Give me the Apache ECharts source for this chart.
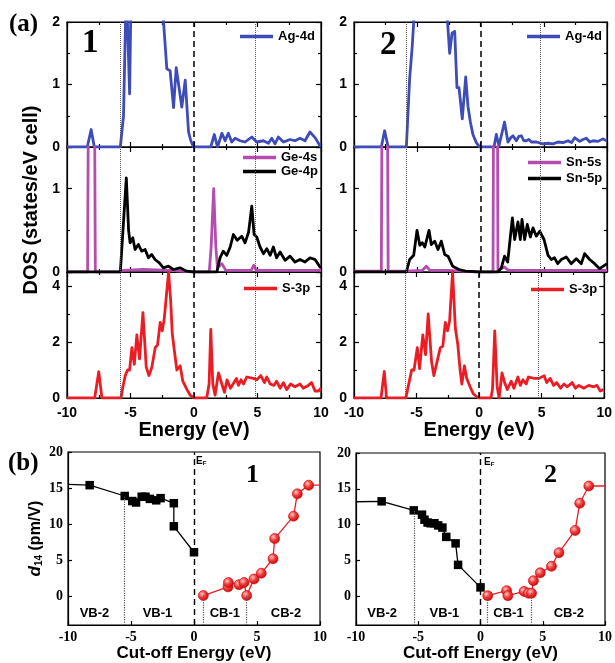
<!DOCTYPE html>
<html>
<head>
<meta charset="utf-8">
<script src="https://cdn.jsdelivr.net/npm/echarts@6/dist/echarts.min.js"></script>
<style>
  html, body { margin: 0; padding: 0; background: #fff; }
  #chart { width: 615px; height: 663px; }
</style>
</head>
<body>
<div id="chart"></div>
<script>
// ---------------- Projected DOS, compound 1 (Ag / Ge / S) ----------------
const ag4d_1 = [[-10,0],[-8.4,0],[-8.1,0.28],[-7.85,0],[-5.8,0],[-5.55,0.5],[-5.33,2.6],[-5.07,0.85],[-4.9,3.2],[-4.6,4.5],[-4.2,5.5],[-3.8,6],[-3.3,5.2],[-2.9,4.2],[-2.5,2.3],[-2.14,1.25],[-1.88,1.22],[-1.61,0.63],[-1.4,1.27],[-0.96,0.64],[-0.69,1.07],[-0.43,0.24],[-0.25,0.1],[-0.04,0],[1.32,0],[1.6,0.2],[1.85,0],[2.2,0.22],[2.45,0.1],[2.7,0.22],[2.97,0.08],[3.24,0.14],[3.63,0.1],[4.02,0.08],[4.55,0.16],[4.94,0.08],[5.47,0.1],[5.86,0.06],[6.12,0.14],[6.38,0.05],[6.64,0.16],[7.04,0.08],[7.56,0.12],[7.95,0.1],[8.35,0.14],[8.74,0.1],[9.13,0.24],[9.53,0.15],[9.92,0.02],[10,0.02]];
const ge4s_1 = [[-10,0],[-8.38,0],[-8.07,10],[-7.77,0],[-5.8,0],[-5.6,0.02],[-4,0.03],[-2,0.02],[-1,0.01],[0,0],[1.2,0],[1.35,0.3],[1.55,1.0],[1.72,0.3],[1.85,0.05],[2.2,0.1],[2.5,0.02],[4.5,0.02],[4.7,0.08],[4.9,0.02],[10,0.02]];
const ge4p_1 = [[-10,0],[-5.8,0],[-5.33,1.13],[-5.15,0.5],[-5.03,0.35],[-4.82,0.41],[-4.64,0.27],[-4.38,0.33],[-4.12,0.25],[-3.85,0.27],[-3.59,0.17],[-3.33,0.21],[-3.07,0.15],[-2.73,0.11],[-2.41,0.05],[-2.02,0.07],[-1.63,0.03],[-1.1,0.05],[-0.58,0.01],[-0.05,0],[1.8,0],[2.05,0.17],[2.3,0.25],[2.58,0.2],[2.85,0.3],[3.1,0.45],[3.4,0.38],[3.76,0.43],[4.02,0.35],[4.3,0.48],[4.55,0.79],[4.73,0.45],[4.94,0.42],[5.2,0.3],[5.47,0.22],[5.73,0.28],[6.0,0.2],[6.25,0.3],[6.5,0.17],[6.78,0.24],[7.17,0.14],[7.56,0.19],[7.95,0.12],[8.35,0.15],[8.74,0.12],[9.13,0.17],[9.53,0.15],[9.92,0.06],[10,0.06]];
const s3p_1 = [[-10,0],[-7.82,0],[-7.5,0.94],[-7.25,0],[-5.75,0],[-5.6,0.4],[-5.41,0.8],[-5.23,1.0],[-5.07,1.0],[-4.89,1.8],[-4.7,1.2],[-4.5,2.25],[-4.29,1.4],[-4.02,3.05],[-3.76,1.1],[-3.55,0.8],[-3.32,1.1],[-3.05,1.8],[-2.87,1.9],[-2.66,2.7],[-2.5,2.4],[-2.35,2.8],[-2.0,4.5],[-1.84,3.5],[-1.71,2.3],[-1.55,1.7],[-1.35,1.0],[-1.09,1.15],[-0.88,0.6],[-0.55,0.3],[-0.3,0.1],[0,0],[1.0,0],[1.19,0.5],[1.32,2.45],[1.48,0.5],[1.66,0.1],[1.93,0.9],[2.19,0.5],[2.4,0.2],[2.6,0.65],[2.87,0.35],[3.34,0.7],[3.5,0.45],[3.7,0.65],[3.9,0.5],[4.15,0.75],[4.68,0.7],[4.94,0.65],[5.26,0.8],[5.55,0.55],[5.73,0.75],[6.0,0.5],[6.3,0.45],[6.5,0.6],[6.78,0.35],[7.04,0.55],[7.3,0.3],[7.6,0.5],[7.95,0.4],[8.35,0.5],[8.6,0.35],[9.0,0.45],[9.26,0.55],[9.53,0.25],[9.8,0.25],[10,0.35]];
const bandEdges_1 = [-5.8, 4.8];

// ---------------- Projected DOS, compound 2 (Ag / Sn / S) ----------------
const ag4d_2 = [[-10,0],[-7.84,0],[-7.58,0.26],[-7.3,0],[-5.86,0],[-5.6,1.1],[-5.4,1.6],[-5.1,2.6],[-4.5,4.5],[-3.8,5.5],[-3.2,4.6],[-2.7,2.3],[-2.44,1.5],[-2.25,1.82],[-2.04,1.85],[-1.86,0.95],[-1.7,0.95],[-1.44,0.45],[-1.17,1.12],[-0.99,0.65],[-0.8,0.4],[-0.6,0.2],[-0.33,0.07],[-0.07,0],[1.07,0],[1.25,0.2],[1.46,0.02],[1.9,0.4],[2.17,0.08],[2.4,0.15],[2.57,0.18],[2.83,0.1],[3.03,0.17],[3.23,0.18],[3.42,0.1],[3.62,0.1],[3.82,0.12],[4.02,0.08],[4.41,0.08],[4.94,0.05],[5.34,0.06],[5.73,0.05],[6.13,0.08],[6.52,0.07],[6.92,0.1],[7.2,0.07],[7.44,0.15],[7.84,0.09],[8.1,0.12],[8.37,0.14],[8.64,0.08],[8.9,0.1],[9.29,0.09],[9.68,0.13],[9.95,0.1],[10,0.1]];
const sn5s_2 = [[-10,0.01],[-7.84,0.01],[-7.57,10],[-7.3,0.01],[-5.9,0.01],[-4.6,0.02],[-4.28,0.07],[-4.0,0.02],[-2.5,0.02],[-1.5,0.01],[0,0],[0.99,0],[1.19,10],[1.38,0.02],[1.9,0.06],[2.2,0.02],[4,0.02],[10,0.02]];
const sn5p_2 = [[-10,0],[-5.86,0],[-5.6,0.15],[-5.28,0.2],[-5.02,0.5],[-4.8,0.32],[-4.6,0.35],[-4.4,0.3],[-4.07,0.5],[-3.89,0.33],[-3.62,0.37],[-3.36,0.27],[-3.1,0.37],[-2.83,0.21],[-2.57,0.19],[-2.2,0.07],[-1.7,0.03],[-1.2,0.01],[-0.1,0],[1.38,0],[1.65,0.05],[1.9,0.19],[2.15,0.12],[2.52,0.65],[2.7,0.39],[2.96,0.6],[3.15,0.39],[3.28,0.63],[3.49,0.39],[3.7,0.57],[3.94,0.42],[4.15,0.53],[4.41,0.43],[4.68,0.49],[5.02,0.39],[5.34,0.2],[5.6,0.15],[5.85,0.17],[6.1,0.1],[6.39,0.15],[6.78,0.18],[7.17,0.1],[7.57,0.16],[7.97,0.1],[8.23,0.22],[8.63,0.15],[9.02,0.1],[9.42,0.04],[9.8,0.08],[10,0.1]];
const s3p_2 = [[-10,0],[-7.84,0],[-7.58,0.95],[-7.4,0],[-5.86,0],[-5.6,0.55],[-5.39,1.0],[-5.2,1.0],[-4.94,1.8],[-4.76,1.05],[-4.5,2.25],[-4.28,1.55],[-4.07,3.0],[-3.8,1.3],[-3.62,0.8],[-3.36,1.3],[-3.1,1.8],[-2.9,1.85],[-2.7,2.7],[-2.52,2.4],[-2.36,2.75],[-2.12,4.5],[-1.9,2.5],[-1.7,1.9],[-1.52,1.0],[-1.38,0.5],[-1.17,1.15],[-0.99,0.7],[-0.72,0.4],[-0.46,0.15],[-0.07,0],[0.94,0],[1.07,0.3],[1.25,2.4],[1.44,0.4],[1.6,0],[1.83,0.9],[2.04,0.55],[2.25,0.3],[2.57,0.6],[2.78,0.35],[3.1,0.75],[3.3,0.45],[3.5,0.65],[3.76,0.5],[3.94,0.75],[4.41,0.7],[4.8,0.7],[5.2,0.8],[5.4,0.55],[5.68,0.7],[5.95,0.45],[6.2,0.55],[6.52,0.35],[6.78,0.5],[7.05,0.4],[7.44,0.55],[7.7,0.35],[7.97,0.45],[8.37,0.35],[8.76,0.45],[9.16,0.4],[9.42,0.45],[9.68,0.25],[9.95,0.3],[10,0.3]];
const bandEdges_2 = [-5.9, 4.75];

// ---------------- d14 versus cut-off energy ----------------
const d14_vb_1 = [[-10,15.5],[-8.28,15.4],[-5.5,13.9],[-4.9,13.2],[-4.6,13.0],[-4.15,13.8],[-3.85,13.8],[-3.5,13.5],[-3.0,13.3],[-2.65,13.6],[-1.6,12.9],[-1.6,9.7],[0,6.1]];
const d14_cb_1 = [[0.74,0.1],[2.7,1.3],[2.73,1.9],[3.57,1.6],[3.97,1.9],[4.18,0.1],[4.76,2.4],[5.34,3.2],[6.27,5.2],[6.4,8.0],[7.9,11.1],[8.2,14.2],[9.1,15.4],[10,15.4]];
const d14_vb_2 = [[-10,13.2],[-7.94,13.26],[-5.36,12.0],[-4.7,11.4],[-4.5,10.7],[-4.25,10.3],[-4.0,10.2],[-3.7,10.2],[-3.4,9.9],[-3.06,9.6],[-2.75,8.3],[-2.0,7.4],[-1.8,4.4],[0,1.26]];
const d14_cb_2 = [[0.58,0.1],[2.1,0.8],[2.2,0.1],[3.5,0.7],[3.85,0.45],[4.1,0.45],[4.25,2.2],[4.8,3.3],[5.7,4.2],[6.3,6.1],[7.6,9.2],[7.97,13.0],[8.7,15.4],[10,15.4]];
const d14Ticks = [0, 5, 10, 15, 20];
const energyTicks = [-10, -5, 0, 5, 10];
const regionNames = ['VB-2', 'VB-1', 'CB-1', 'CB-2'];
const regionX_1 = [-7.9, -2.9, 2.45, 7.3];
const regionX_2 = [-7.9, -2.9, 2.25, 7.1];
const regionY = -2.4;

// ---------------- styling helpers ----------------
const SANS = 'Liberation Sans';
const SERIF = 'Liberation Serif';
const C_AG = '#3d4cb8', C_S = '#b54cb0', C_P = '#000000', C_SP = '#ec1c24';
const frame = { color: '#000', width: 1.2 };

const grids = [], xAxes = [], yAxes = [], series = [];

function addDosPanel(box, yMax, yStep, isBottom) {
  const g = grids.length;
  grids.push({ left: box.left, top: box.top, width: box.width, height: box.height,
    show: true, borderColor: '#000', borderWidth: 1.2, containLabel: false });
  const tick = { show: true, inside: true, length: 5, lineStyle: frame };
  const minor = { show: true, splitNumber: 2, length: 3, lineStyle: frame };
  const xi = xAxes.length;
  xAxes.push({
    gridIndex: g, type: 'value', min: energyTicks[0], max: energyTicks[energyTicks.length - 1], interval: 5,
    position: 'bottom', axisLine: { show: true, onZero: false, lineStyle: frame },
    axisTick: tick, minorTick: minor, splitLine: { show: false },
    axisLabel: { show: isBottom, margin: 8, color: '#000', fontFamily: SANS, fontWeight: 'bold', fontSize: 14 },
    name: isBottom ? 'Energy (eV)' : '', nameLocation: 'middle', nameGap: 19,
    nameTextStyle: { fontFamily: SANS, fontWeight: 'bold', fontSize: 20, color: '#000' }
  });
  xAxes.push({
    gridIndex: g, type: 'value', min: -10, max: 10, interval: 5, position: 'top',
    axisLine: { show: true, onZero: false, lineStyle: frame }, axisTick: tick, minorTick: minor,
    splitLine: { show: false }, axisLabel: { show: false }
  });
  const yi = yAxes.length;
  const fmt = v => (Math.abs(v / yStep - Math.round(v / yStep)) < 1e-6 ? String(v) : '');
  yAxes.push({
    gridIndex: g, type: 'value', min: 0, max: yMax, interval: yStep, position: 'left',
    axisLine: { show: true, onZero: false, lineStyle: frame }, axisTick: tick, minorTick: minor,
    splitLine: { show: false },
    axisLabel: { formatter: fmt, margin: 7, color: '#000', fontFamily: SANS, fontWeight: 'bold', fontSize: 14 }
  });
  yAxes.push({
    gridIndex: g, type: 'value', min: 0, max: yMax, interval: yStep, position: 'right',
    axisLine: { show: true, onZero: false, lineStyle: frame }, axisTick: tick, minorTick: minor,
    splitLine: { show: false }, axisLabel: { show: false }
  });
  return { xi, yi };
}

function dosLine(name, data, color, ax) {
  return {
    type: 'line', name, data, xAxisIndex: ax.xi, yAxisIndex: ax.yi,
    symbol: 'none', showSymbol: false, clip: true, z: 3,
    lineStyle: { color, width: 2.8, join: 'round' }, itemStyle: { color },
    emphasis: { disabled: true }
  };
}

function edgeMarks(edges) {
  return {
    silent: true, symbol: ['none', 'none'], label: { show: false }, animation: false,
    data: [
      { xAxis: edges[0], lineStyle: { type: 'dotted', color: '#555', width: 1 } },
      { xAxis: 0, lineStyle: { type: [6, 4], color: '#000', width: 1.5 } },
      { xAxis: edges[1], lineStyle: { type: 'dotted', color: '#555', width: 1 } }
    ]
  };
}

// ---- DOS columns ----
const colL = { left: 67, width: 254 }, colR = { left: 354, width: 253 };
const rowsTop = [22, 147, 272], rowH = [125, 125, 126];

function addDosColumn(col, ag, sN, s, pN, p, s3p, edges) {
  const a1 = addDosPanel({ left: col.left, width: col.width, top: rowsTop[0], height: rowH[0] }, 2, 1, false);
  const a2 = addDosPanel({ left: col.left, width: col.width, top: rowsTop[1], height: rowH[1] }, 1.5, 1, false);
  const a3 = addDosPanel({ left: col.left, width: col.width, top: rowsTop[2], height: rowH[2] }, 4.5, 2, true);
  const sAg = dosLine('Ag-4d', ag, C_AG, a1); sAg.markLine = edgeMarks(edges);
  const sS = dosLine(sN, s, C_S, a2); sS.markLine = edgeMarks(edges);
  const sP = dosLine(pN, p, C_P, a2);
  const sSp = dosLine('S-3p', s3p, C_SP, a3); sSp.markLine = edgeMarks(edges);
  series.push(sAg, sS, sP, sSp);
}
addDosColumn(colL, ag4d_1, 'Ge-4s', ge4s_1, 'Ge-4p', ge4p_1, s3p_1, bandEdges_1);
addDosColumn(colR, ag4d_2, 'Sn-5s', sn5s_2, 'Sn-5p', sn5p_2, s3p_2, bandEdges_2);

// ---- d14 panels ----
const d14Min = -4, d14Max = 20;
function addD14Panel(box, vb, cb, dropPts, regionX, withName) {
  const g = grids.length;
  grids.push({ left: box.left, top: box.top, width: box.width, height: box.height,
    show: true, borderColor: '#000', borderWidth: 1.2 });
  const xi = xAxes.length, yi = yAxes.length;
  xAxes.push({
    gridIndex: g, type: 'value', min: -10, max: 10, interval: 5,
    axisLine: { show: true, onZero: false, lineStyle: frame },
    axisTick: { inside: true, length: 4, lineStyle: frame }, splitLine: { show: false },
    axisLabel: { margin: 5, color: '#000', fontFamily: SERIF, fontWeight: 'bold', fontSize: 14 },
    name: 'Cut-off Energy (eV)', nameLocation: 'middle', nameGap: 18,
    nameTextStyle: { fontFamily: SANS, fontWeight: 'bold', fontSize: 17, color: '#000' }
  });
  yAxes.push({
    gridIndex: g, type: 'value', min: d14Min, max: d14Max,
    axisLine: { show: true, onZero: false, lineStyle: frame },
    axisTick: { inside: true, length: 4, lineStyle: frame, customValues: d14Ticks },
    splitLine: { show: false },
    axisLabel: { customValues: d14Ticks, margin: 5, color: '#000', fontFamily: SERIF, fontWeight: 'bold', fontSize: 14 },
    name: withName ? '{d|d}{s|14}{u| (pm/V)}' : '', nameLocation: 'middle', nameGap: 24,
    nameTextStyle: { color: '#000', rich: {
      d: { fontFamily: SANS, fontStyle: 'italic', fontWeight: 'bold', fontSize: 17, color: '#000' },
      s: { fontFamily: SANS, fontWeight: 'bold', fontSize: 10, color: '#000', verticalAlign: 'bottom', padding: [7, 0, 0, 0] },
      u: { fontFamily: SANS, fontWeight: 'bold', fontSize: 16, color: '#000' } } }
  });
  const blackData = vb.map((p, i) => (i === 0 ? { value: p, symbol: 'none' } : p));
  const redData = cb.map((p, i) => (i === cb.length - 1 ? { value: p, symbol: 'none' } : p));
  const drops = dropPts.map(p => [
    { coord: [p[0], d14Min], lineStyle: { type: 'dotted', color: '#555', width: 1.2 } },
    { coord: [p[0], p[1]] }
  ]);
  series.push({
    type: 'line', name: 'VB', data: blackData, xAxisIndex: xi, yAxisIndex: yi,
    symbol: 'rect', symbolSize: 8.5, showSymbol: true, showAllSymbol: true, z: 4,
    lineStyle: { color: '#000', width: 1.3 }, itemStyle: { color: '#000' },
    emphasis: { disabled: true },
    markLine: {
      silent: true, symbol: ['none', 'none'], label: { show: false }, animation: false,
      data: [{ xAxis: 0, lineStyle: { type: [6, 4], color: '#000', width: 1.4 } }].concat(drops)
    },
    markPoint: {
      silent: true, symbol: 'circle', symbolSize: 0, animation: false,
      label: { show: true, position: 'inside', formatter: '{b}', color: '#000',
        fontFamily: SANS, fontWeight: 'bold', fontSize: 13 },
      data: regionNames.map((n, i) => ({ name: n, coord: [regionX[i], regionY] }))
    }
  });
  series.push({
    type: 'line', name: 'CB', data: redData, xAxisIndex: xi, yAxisIndex: yi,
    symbol: 'circle', symbolSize: 10, showSymbol: true, showAllSymbol: true, z: 4,
    lineStyle: { color: C_SP, width: 1.3 },
    itemStyle: { color: { type: 'radial', x: 0.38, y: 0.35, r: 0.7,
      colorStops: [{ offset: 0, color: '#ffc6c6' }, { offset: 0.45, color: '#f04040' }, { offset: 1, color: '#c40000' }] },
      borderColor: '#d00000', borderWidth: 0.6 },
    emphasis: { disabled: true }
  });
}
addD14Panel({ left: 68, top: 452, width: 252, height: 178 }, d14_vb_1, d14_cb_1,
  [d14_vb_1[2], d14_cb_1[0], d14_cb_1[5]], regionX_1, true);
addD14Panel({ left: 356, top: 453, width: 252, height: 178 }, d14_vb_2, d14_cb_2,
  [d14_vb_2[2], d14_cb_2[0], d14_cb_2[5]], regionX_2, false);

// ---- legends ----
const legendBase = {
  orient: 'vertical', icon: 'rect', itemWidth: 33, itemHeight: 3.5, itemGap: 1, padding: 0,
  selectedMode: false, textStyle: { fontFamily: SANS, fontWeight: 'bold', fontSize: 13, color: '#000' }
};
const legends = [
  Object.assign({}, legendBase, { data: ['Ag-4d'], left: 240, top: 30 }),
  Object.assign({}, legendBase, { data: ['Ge-4s', 'Ge-4p'], left: 243, top: 151 }),
  Object.assign({}, legendBase, { data: ['S-3p'], left: 244, top: 282 }),
  Object.assign({}, legendBase, { data: ['Ag-4d'], left: 527, top: 30 }),
  Object.assign({}, legendBase, { data: ['Sn-5s', 'Sn-5p'], left: 528, top: 156, itemGap: 3 }),
  Object.assign({}, legendBase, { data: ['S-3p'], left: 531, top: 283 })
];

// ---- free text ----
const txt = (text, left, top, font) => ({ type: 'text', left, top, silent: true,
  style: { text, font, fill: '#000' } });
const graphics = [
  txt('(a)', 9, 12, 'bold 25px "Liberation Serif"'),
  txt('(b)', 8, 451, 'bold 25px "Liberation Serif"'),
  txt('1', 82, 27, 'bold 33px "Liberation Serif"'),
  txt('2', 380, 29, 'bold 33px "Liberation Serif"'),
  txt('1', 246, 462, 'bold 26px "Liberation Serif"'),
  txt('2', 544, 462, 'bold 26px "Liberation Serif"'),
  { type: 'text', x: 31, y: 200, rotation: Math.PI / 2, silent: true,
    style: { text: 'DOS (states/eV cell)', font: 'bold 20px "Liberation Sans"', fill: '#000',
      align: 'center', verticalAlign: 'middle' } },
  { type: 'text', left: 196, top: 456, silent: true,
    style: { text: '{e|E}{f|F}', rich: { e: { font: 'bold 10px "Liberation Sans"', fill: '#000' },
      f: { font: 'bold 6px "Liberation Sans"', fill: '#000', verticalAlign: 'bottom', padding: [5, 0, 0, 0] } } } },
  { type: 'text', left: 484, top: 457, silent: true,
    style: { text: '{e|E}{f|F}', rich: { e: { font: 'bold 10px "Liberation Sans"', fill: '#000' },
      f: { font: 'bold 6px "Liberation Sans"', fill: '#000', verticalAlign: 'bottom', padding: [5, 0, 0, 0] } } } }
];

const chart = echarts.init(document.getElementById('chart'), null, { renderer: 'canvas' });
chart.setOption({
  animation: false,
  backgroundColor: '#fff',
  grid: grids,
  xAxis: xAxes,
  yAxis: yAxes,
  legend: legends,
  series: series,
  graphic: graphics
});
</script>
</body>
</html>
